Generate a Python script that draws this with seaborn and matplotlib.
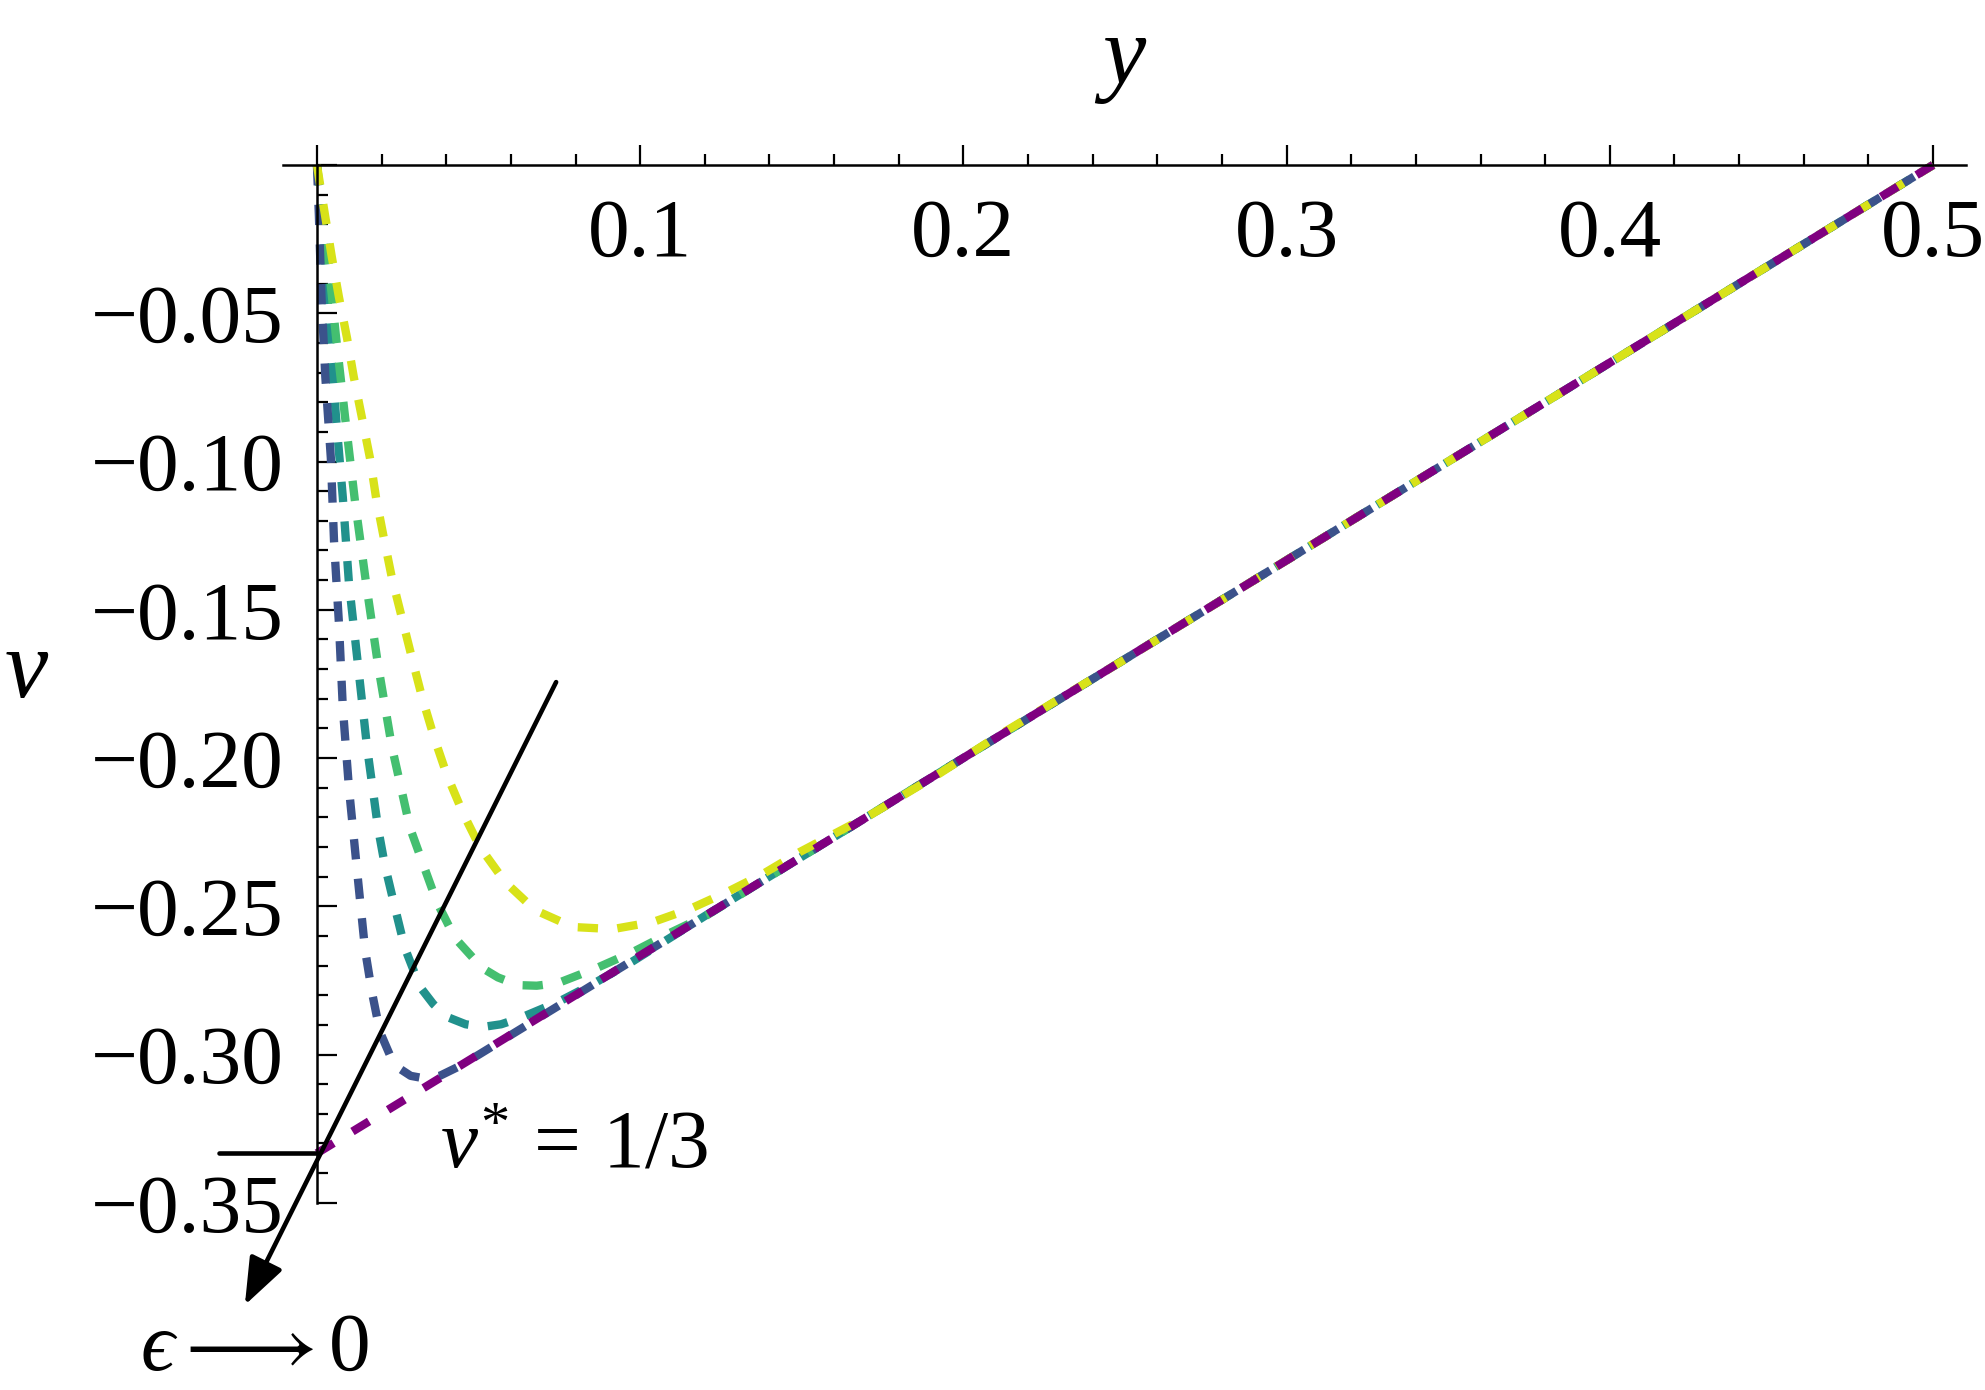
import pandas as pd
import seaborn as sns
import matplotlib.pyplot as plt
from matplotlib.ticker import MultipleLocator

# values (y along the top axis, v going down)
yellow_y = [0.0, 0.0025, 0.0046, 0.0068, 0.0093, 0.0114, 0.0139, 0.0164, 0.0183, 0.0207,
            0.0232, 0.0263, 0.0294, 0.0325, 0.0362, 0.0402, 0.0452, 0.0504, 0.0582, 0.0675,
            0.0792, 0.0916, 0.1040, 0.1154, 0.1269, 0.1380, 0.1494, 0.1717, 0.1928, 0.2100,
            0.2500, 0.3000, 0.4000, 0.5000]
yellow_v = [0.0, -0.0169, -0.0310, -0.0445, -0.0583, -0.0715, -0.0851, -0.0988, -0.1123, -0.1258,
            -0.1393, -0.1528, -0.1663, -0.1794, -0.1929, -0.2057, -0.2186, -0.2300, -0.2418, -0.2513,
            -0.2570, -0.2577, -0.2553, -0.2509, -0.2452, -0.2391, -0.2317, -0.2189, -0.2051, -0.1930,
            -0.1667, -0.1333, -0.0667, 0.0]

green_y = [0.0, 0.0034, 0.0059, 0.0087, 0.0118, 0.0152, 0.0189, 0.0232, 0.0288, 0.0371,
           0.0427, 0.0511, 0.0560, 0.0622, 0.0680, 0.0746, 0.0866, 0.0978, 0.1092, 0.1207,
           0.1500, 0.2000, 0.3000, 0.4000, 0.5000]
green_v = [0.0, -0.0310, -0.0580, -0.0850, -0.1137, -0.1410, -0.1686, -0.1963, -0.2236, -0.2486,
           -0.2607, -0.2708, -0.2740, -0.2766, -0.2768, -0.2759, -0.2708, -0.2654, -0.2590, -0.2530,
           -0.2333, -0.2000, -0.1333, -0.0667, 0.0]

teal_y = [0.0, 0.0025, 0.0040, 0.0059, 0.0080, 0.0099, 0.0127, 0.0155, 0.0189, 0.0210,
          0.0241, 0.0272, 0.0319, 0.0360, 0.0402, 0.0460, 0.0514, 0.0570, 0.0628, 0.0746,
          0.0854, 0.0978, 0.1200, 0.1500, 0.2000, 0.3000, 0.4000, 0.5000]
teal_v = [0.0, -0.0310, -0.0580, -0.0850, -0.1120, -0.1410, -0.1686, -0.1963, -0.2236, -0.2361,
          -0.2503, -0.2641, -0.2772, -0.2830, -0.2873, -0.2898, -0.2907, -0.2898, -0.2877, -0.2823,
          -0.2762, -0.2685, -0.2533, -0.2333, -0.2000, -0.1333, -0.0667, 0.0]

blue_y = [0.0, 0.0006, 0.0014, 0.0026, 0.0043, 0.0053, 0.0068, 0.0080, 0.0099, 0.0124,
          0.0149, 0.0170, 0.0195, 0.0225, 0.0255, 0.0290, 0.0330, 0.0380, 0.0440, 0.0500,
          0.1000, 0.2000, 0.3000, 0.4000, 0.5000]
blue_v = [0.0, -0.0169, -0.0445, -0.0715, -0.0988, -0.1272, -0.1545, -0.1828, -0.2101, -0.2378,
          -0.2648, -0.2789, -0.2924, -0.3000, -0.3047, -0.3072, -0.3080, -0.3072, -0.3040, -0.3001,
          -0.2667, -0.2000, -0.1333, -0.0667, 0.0]

limit_y = [0.0, 0.5]
limit_v = [-0.3333, 0.0]

# drawing order: the purple limit line ends up on top
curve_names = ["teal", "green", "blue", "yellow", "limit"]
curve_colors = ["#21918c", "#44bf70", "#3b528b", "#d8e219", "#800080"]

# annotation guide: arrow towards epsilon -> 0, and the v* mark
arrow_from = (0.0740, -0.1744)
arrow_to = (-0.0223, -0.3845)
mark_y = [-0.0303, 0.0]
mark_v = [-0.3333, -0.3333]

xtick_pos = [0.0, 0.1, 0.2, 0.3, 0.4, 0.5]
xtick_lab = ["", "0.1", "0.2", "0.3", "0.4", "0.5"]
ytick_pos = [-0.35, -0.30, -0.25, -0.20, -0.15, -0.10, -0.05, 0.0]
ytick_lab = ["\u22120.35", "\u22120.30", "\u22120.25", "\u22120.20", "\u22120.15",
             "\u22120.10", "\u22120.05", ""]

frames = []
for name, ys, vs in [("yellow", yellow_y, yellow_v), ("green", green_y, green_v),
                     ("teal", teal_y, teal_v), ("blue", blue_y, blue_v),
                     ("limit", limit_y, limit_v)]:
    frames.append(pd.DataFrame({"y": ys, "v": vs, "curve": name}))
df = pd.concat(frames, ignore_index=True)

sns.set_style("white")
plt.rcParams["font.family"] = ["Liberation Serif", "DejaVu Serif"]
plt.rcParams["mathtext.fontset"] = "custom"
plt.rcParams["mathtext.rm"] = "Liberation Serif"
plt.rcParams["mathtext.it"] = "Liberation Serif:italic"
plt.rcParams["mathtext.fallback"] = "stix"
plt.rcParams["text.color"] = "black"
plt.rcParams["xtick.color"] = "black"
plt.rcParams["ytick.color"] = "black"
plt.rcParams["lines.scale_dashes"] = False

fig = plt.figure(figsize=(19.85, 13.9), dpi=100)
ax = fig.add_axes([0.14257, 0.13471, 0.84786, 0.74658])

for name, col in zip(curve_names, curve_colors):
    sub = df[df["curve"] == name]
    if name == "limit":
        pattern = (0, (14.0, 16.0))
    else:
        pattern = (0, (14.6, 14.0))
    before = len(ax.lines)
    sns.lineplot(data=sub, x="y", y="v", color=col, sort=False, estimator=None,
                 ax=ax, legend=False)
    for line in ax.lines[before:]:
        line.set_linewidth(6.0)
        line.set_linestyle(pattern)
        line.set_dash_capstyle("butt")
        line.set_clip_on(False)

ax.plot(mark_y, mark_v, color="black", lw=3.3, clip_on=False)
ax.annotate("", xy=arrow_to, xytext=arrow_from,
            arrowprops=dict(arrowstyle="-|>,head_length=1.45,head_width=0.55",
                            mutation_scale=20, lw=3.3, color="black",
                            shrinkA=0, shrinkB=0),
            annotation_clip=False)

ax.text(0.038, -0.3379, r"$v^{*}\,=\,1/3$", fontsize=60, ha="left", va="baseline")
ax.text(-0.0548, -0.4064, "$\u03f5\\longrightarrow 0$", fontsize=60, ha="left",
        va="baseline", clip_on=False)

ax.set_xlim(-0.0105, 0.5102)
ax.set_ylim(-0.35, 0.0)

for side in ["top", "right"]:
    ax.spines[side].set_visible(False)
ax.spines["left"].set_position(("data", 0))
ax.spines["bottom"].set_position(("data", 0))
for side in ["left", "bottom"]:
    ax.spines[side].set_linewidth(1.8)
    ax.spines[side].set_color("black")

ax.set_xticks(xtick_pos, xtick_lab)
ax.set_yticks(ytick_pos, ytick_lab)
ax.xaxis.set_minor_locator(MultipleLocator(0.02))
ax.yaxis.set_minor_locator(MultipleLocator(0.01))
ax.tick_params(axis="both", which="both", direction="in", width=1.6, labelsize=60,
               bottom=True, left=True, top=False, right=False)
ax.tick_params(axis="both", which="major", length=14.4)
ax.tick_params(axis="both", which="minor", length=8.2)
ax.tick_params(axis="x", which="major", pad=24)
ax.tick_params(axis="y", which="major", pad=24)
ax.set_xlabel("")
ax.set_ylabel("")
ax.grid(False)

fig.text(0.5663, 0.9403, "y", fontsize=70, style="italic", ha="center", va="baseline")
fig.text(0.0131, 0.4986, "v", fontsize=70, style="italic", ha="center", va="baseline")

fig.savefig("out.png", dpi=100)
